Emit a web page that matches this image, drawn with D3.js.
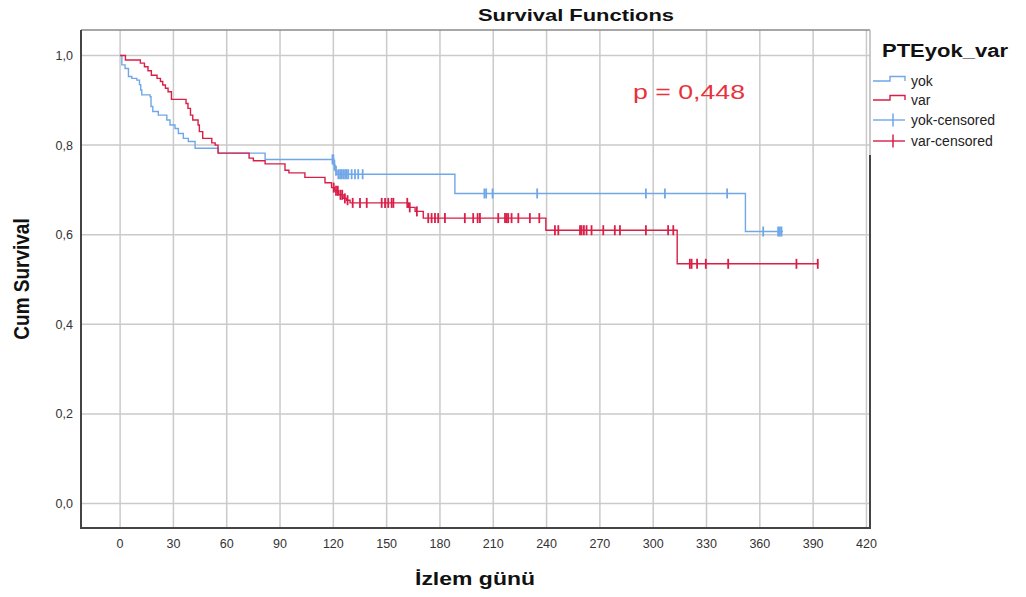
<!DOCTYPE html>
<html>
<head>
<meta charset="utf-8">
<script src="https://cdn.jsdelivr.net/npm/d3@7/dist/d3.min.js"></script>
<style>
  body { margin: 0; background: #fff; }
  svg { display: block; font-family: "Liberation Sans", Arial, sans-serif; }
</style>
</head>
<body>
<svg id="chart" width="1026" height="597"></svg>
<script>
// ---------- data ----------
const groups = ["yok", "var"];
const legendLabels = ["yok", "var", "yok-censored", "var-censored"];
const xTicks = [0, 30, 60, 90, 120, 150, 180, 210, 240, 270, 300, 330, 360, 390, 420];
const yTicks = [0, 0.2, 0.4, 0.6, 0.8, 1.0];

// [day, survival after the step]
const yokSteps = [
  [0, 1.0], [1, 0.979], [2.8, 0.971], [4.7, 0.953], [6.6, 0.949], [9.4, 0.945],
  [10.9, 0.935], [11.6, 0.923], [12.2, 0.912], [16.9, 0.908], [17.4, 0.886],
  [18.4, 0.875], [21.5, 0.867], [26.3, 0.856], [28.1, 0.845], [30.9, 0.837],
  [32.8, 0.826], [35.6, 0.815], [38.4, 0.808], [42.2, 0.793], [55.3, 0.782],
  [81.6, 0.768], [120.4, 0.755], [121, 0.743], [122, 0.735], [188.4, 0.692],
  [351.9, 0.607]
];
const yokLast = 373;
const yokCensored = [119.5, 120, 120.6, 121.5, 122.8, 123.8, 124.7, 125.6, 126.6,
  127.5, 128.4, 130.3, 132.2, 134, 136.5, 205, 206, 209.6, 234.7, 295.9, 306.6,
  341.6, 361.9, 370.3, 371.3, 372.2];

const varSteps = [
  [0, 1.0], [3, 0.99], [11.4, 0.983], [13.7, 0.975], [15.7, 0.966], [17.6, 0.956],
  [20.8, 0.949], [22.7, 0.942], [24, 0.934], [25.5, 0.927], [27, 0.919],
  [28.9, 0.902], [37.1, 0.893], [38.2, 0.882], [39.6, 0.867], [40.9, 0.856],
  [43.9, 0.845], [44.6, 0.830], [46.5, 0.815], [51.6, 0.805], [53.5, 0.80],
  [55.1, 0.782], [72.6, 0.771], [75, 0.765], [81.6, 0.758], [92.8, 0.744],
  [95, 0.738], [104, 0.728], [115.3, 0.716], [119, 0.705], [120.5, 0.698],
  [123, 0.689], [125.5, 0.681], [127.5, 0.677], [129.4, 0.671], [162.2, 0.661],
  [166, 0.652], [170.6, 0.637], [239.6, 0.610], [313.5, 0.535]
];
const varLast = 393;
const varCensored = [120.2, 121.5, 122.5, 124, 125, 126.5, 128, 130.9, 135, 138.8,
  147.2, 149.1, 150.9, 152.8, 153.8, 161.6, 163, 167, 173.4, 175.3, 177.2, 179,
  182.8, 194, 198.7, 201.2, 202.5, 212.8, 216.6, 217.5, 218.4, 220.3, 224.1, 230.6,
  235.9, 244.7, 246.6, 258.8, 259.7, 261, 262.5, 265.3, 271.9, 278.4, 281.3, 295.9,
  308.4, 311.3, 320.6, 321.6, 324.7, 329.6, 342.2, 380.6, 392.6];

const pText = "p = 0,448";

// ---------- setup ----------
const svg = d3.select("#chart");
const plot = { left: 81, right: 870, top: 30, bottom: 528 };
const colors = { yok: "#6fa7e8", var: "#d91e48" };

const x = d3.scaleLinear().domain([-22, 422]).range([plot.left, plot.right]);
const y = d3.scaleLinear().domain([-0.0547, 1.0569]).range([plot.bottom, plot.top]);

const series = [
  { key: "yok", steps: yokSteps, last: yokLast, cens: yokCensored },
  { key: "var", steps: varSteps, last: varLast, cens: varCensored }
];

function survAt(steps, t) {
  let s = steps[0][1];
  for (const [d, v] of steps) if (d <= t) s = v;
  return s;
}

// ---------- grid ----------
const grid = svg.append("g").attr("class", "grid");
grid.selectAll("line.gx").data(xTicks).enter().append("line")
  .attr("x1", d => x(d)).attr("x2", d => x(d))
  .attr("y1", plot.top).attr("y2", plot.bottom)
  .attr("stroke", "#cacaca").attr("stroke-width", 1.5);
grid.selectAll("line.gy").data(yTicks).enter().append("line")
  .attr("y1", d => y(d)).attr("y2", d => y(d))
  .attr("x1", plot.left).attr("x2", plot.right)
  .attr("stroke", "#cacaca").attr("stroke-width", 1.5);

// ---------- curves ----------
const line = d3.line().x(d => x(d[0])).y(d => y(d[1])).curve(d3.curveStepAfter);
const curves = svg.append("g").attr("class", "curves");
series.forEach(s => {
  const pts = s.steps.concat([[s.last, s.steps[s.steps.length - 1][1]]]);
  curves.append("path").datum(pts)
    .attr("d", line).attr("fill", "none")
    .attr("stroke", colors[s.key]).attr("stroke-width", 1.4);
  curves.selectAll(null).data(s.cens).enter().append("line")
    .attr("x1", d => x(d)).attr("x2", d => x(d))
    .attr("y1", d => y(survAt(s.steps, d)) - 5)
    .attr("y2", d => y(survAt(s.steps, d)) + 5)
    .attr("stroke", colors[s.key]).attr("stroke-width", 1.8);
});

// ---------- frame ----------
const frame = svg.append("g").attr("class", "frame");
frame.append("line").attr("x1", plot.left).attr("x2", plot.right)
  .attr("y1", plot.top).attr("y2", plot.top).attr("stroke", "#8a8a8a").attr("stroke-width", 1.5);
frame.append("line").attr("x1", plot.right).attr("x2", plot.right)
  .attr("y1", plot.top).attr("y2", 155).attr("stroke", "#b8b8b8").attr("stroke-width", 1.5);
frame.append("line").attr("x1", plot.right).attr("x2", plot.right)
  .attr("y1", 155).attr("y2", plot.bottom).attr("stroke", "#444").attr("stroke-width", 2);
frame.append("line").attr("x1", plot.left).attr("x2", plot.left)
  .attr("y1", plot.top).attr("y2", plot.bottom + 1).attr("stroke", "#444").attr("stroke-width", 2);
frame.append("line").attr("x1", plot.left - 1).attr("x2", plot.right + 1)
  .attr("y1", plot.bottom).attr("y2", plot.bottom).attr("stroke", "#444").attr("stroke-width", 2);

// ---------- tick labels ----------
svg.append("g").selectAll("text").data(xTicks).enter().append("text")
  .attr("x", d => x(d)).attr("y", 548)
  .attr("text-anchor", "middle").attr("font-size", 12.5).attr("fill", "#333")
  .text(d => d);
svg.append("g").selectAll("text").data(yTicks).enter().append("text")
  .attr("x", 73).attr("y", d => y(d) + 4.5)
  .attr("text-anchor", "end").attr("font-size", 12.5).attr("fill", "#333")
  .text(d => d3.format(".1f")(d).replace(".", ","));

// ---------- titles ----------
svg.append("text").attr("x", 576).attr("y", 21).attr("text-anchor", "middle")
  .attr("font-size", 17).attr("font-weight", "bold").attr("fill", "#111")
  .attr("textLength", 196).attr("lengthAdjust", "spacingAndGlyphs")
  .text("Survival Functions");
svg.append("text").attr("x", 475).attr("y", 585).attr("text-anchor", "middle")
  .attr("font-size", 19).attr("font-weight", "bold").attr("fill", "#111")
  .attr("textLength", 120).attr("lengthAdjust", "spacingAndGlyphs")
  .text("İzlem günü");
svg.append("text")
  .attr("transform", "translate(29,279) rotate(-90) scale(1,1.2)")
  .attr("text-anchor", "middle")
  .attr("font-size", 19).attr("font-weight", "bold").attr("fill", "#111")
  .text("Cum Survival");

svg.append("text").attr("x", 633).attr("y", 99)
  .attr("font-size", 21).attr("fill", "#e8323c")
  .attr("textLength", 112).attr("lengthAdjust", "spacingAndGlyphs")
  .text(pText);

// ---------- legend ----------
const legend = svg.append("g").attr("class", "legend");
legend.append("text").attr("x", 882).attr("y", 57)
  .attr("font-size", 18).attr("font-weight", "bold").attr("fill", "#111")
  .attr("textLength", 126).attr("lengthAdjust", "spacingAndGlyphs")
  .text("PTEyok_var");

const legRows = [81, 100, 120, 141];
legendLabels.forEach((lab, i) => {
  const key = groups[i % 2];
  const yy = legRows[i];
  if (i < 2) {
    legend.append("path")
      .attr("d", `M873,${yy} H890 V${yy - 4.5} H905 V${yy}`)
      .attr("fill", "none").attr("stroke", colors[key]).attr("stroke-width", 1.4);
  } else {
    legend.append("line").attr("x1", 873).attr("x2", 905)
      .attr("y1", yy).attr("y2", yy).attr("stroke", colors[key]).attr("stroke-width", 1.4);
    legend.append("line").attr("x1", 893).attr("x2", 893)
      .attr("y1", yy - 6.5).attr("y2", yy + 6.5).attr("stroke", colors[key]).attr("stroke-width", 1.5);
  }
  legend.append("text").attr("x", 911).attr("y", yy + 5)
    .attr("font-size", 14).attr("fill", "#222")
    .text(lab);
});
</script>
</body>
</html>
